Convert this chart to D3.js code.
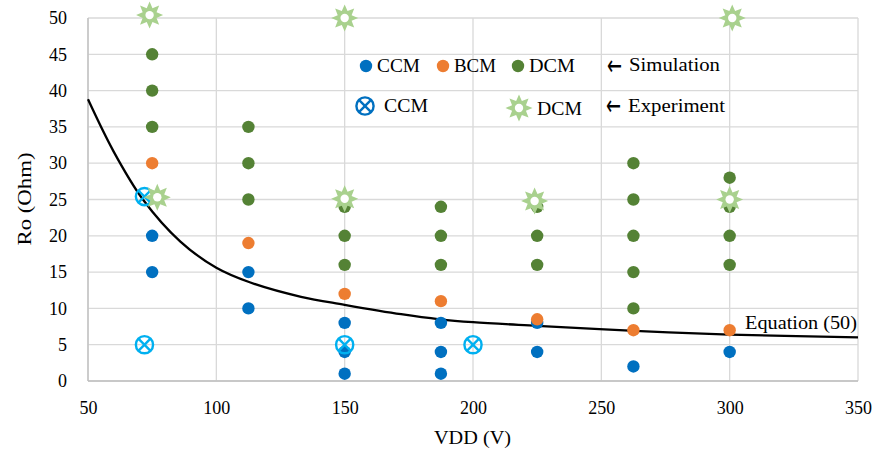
<!DOCTYPE html>
<html><head><meta charset="utf-8">
<script src="https://cdn.jsdelivr.net/npm/d3@7"></script>
<style>
body{margin:0;background:#fff;}
text{font-family:"Liberation Serif",serif;fill:#000;}
</style></head>
<body><svg id="c" width="876" height="450"></svg>
<script>
// ---- data ----
const xTicks = [50,100,150,200,250,300,350];
const yTicks = [0,5,10,15,20,25,30,35,40,45,50];

const ccmSimV = [75,75,112.5,112.5,150,150,150,187.5,187.5,187.5,225,225,262.5,300];
const ccmSimR = [15,20,10,15,1,4,8,1,4,8,4,8,2,4];

const bcmSimV = [75,112.5,150,187.5,225,262.5,300];
const bcmSimR = [30,19,12,11,8.5,7,7];

const dcmSimV = [75,75,75,112.5,112.5,112.5,150,150,150,187.5,187.5,187.5,225,225,225,262.5,262.5,262.5,262.5,262.5,300,300,300,300];
const dcmSimR = [35,40,45,25,30,35,16,20,24,16,20,24,16,20,24,10,15,20,25,30,16,20,24,28];

const ccmExpV = [72,72,150,200];
const ccmExpR = [25.4,5,5,5];

const dcmExpV = [74,77,150,150,224,300,301];
const dcmExpR = [50.4,25.3,50,25.1,24.8,25,50];

const eqV = [50,60,71.4,86,100,113,133,150,172,187,200,225,263,300,350];
const eqR = [38.8,31.6,25,19.2,15.6,13.6,11.6,10.5,9.2,8.5,8.1,7.6,6.9,6.4,6.0];

// ---- chart ----
const svg = d3.select("#c");
const x = d3.scaleLinear().domain([50,350]).range([88,858]);
const y = d3.scaleLinear().domain([0,50]).range([381,18]);
const FS = 18, LFS = 19;
const C = {blue:"#0070C0", orange:"#ED7D31", green:"#548235", cyan:"#00B0F0", star:"#A9D18E", grid:"#D9D9D9"};

// gridlines
svg.append("g").selectAll("line").data(yTicks).join("line")
  .attr("x1",x(50)).attr("x2",x(350)).attr("y1",d=>y(d)).attr("y2",d=>y(d))
  .attr("stroke",C.grid).attr("stroke-width",1.3);
svg.append("g").selectAll("line").data(xTicks).join("line")
  .attr("y1",y(0)).attr("y2",y(50)).attr("x1",d=>x(d)).attr("x2",d=>x(d))
  .attr("stroke",C.grid).attr("stroke-width",1.3);
// axis lines
svg.append("line").attr("x1",x(50)).attr("x2",x(350)).attr("y1",y(0)).attr("y2",y(0)).attr("stroke","#BFBFBF").attr("stroke-width",1.3);
svg.append("line").attr("x1",x(50)).attr("x2",x(50)).attr("y1",y(0)).attr("y2",y(50)).attr("stroke","#BFBFBF").attr("stroke-width",1.3);

// axes labels
const ax = svg.append("g").attr("transform",`translate(0,${y(0)})`)
  .call(d3.axisBottom(x).tickValues(xTicks).tickSize(0).tickPadding(20).tickFormat(d3.format("d")));
ax.select(".domain").remove();
ax.selectAll("text").style("font-size",FS+"px").style("font-family","Liberation Serif");
const ay = svg.append("g").attr("transform",`translate(${x(50)},0)`)
  .call(d3.axisLeft(y).tickValues(yTicks).tickSize(0).tickPadding(21).tickFormat(d3.format("d")));
ay.select(".domain").remove();
ay.selectAll("text").style("font-size",FS+"px").style("font-family","Liberation Serif");

svg.append("text").attr("x",434).attr("y",444)
  .attr("textLength",77).attr("lengthAdjust","spacingAndGlyphs")
  .style("font-size",LFS+"px").text("VDD (V)");
svg.append("text").attr("transform",`translate(31,${199+46.5}) rotate(-90)`)
  .attr("textLength",93).attr("lengthAdjust","spacingAndGlyphs")
  .style("font-size",LFS+"px").text("Ro (Ohm)");

// equation curve
const line = d3.line().x((d,i)=>x(eqV[i])).y((d,i)=>y(eqR[i])).curve(d3.curveCatmullRom.alpha(0.5));
svg.append("path").attr("d",line(eqV)).attr("fill","none").attr("stroke","#000").attr("stroke-width",2.3);
svg.append("text").attr("x",745).attr("y",329)
  .attr("textLength",112).attr("lengthAdjust","spacingAndGlyphs")
  .style("font-size",LFS+"px").text("Equation (50)");

// simulation dots
function dots(V,R,col){
  svg.append("g").selectAll("circle").data(V).join("circle")
    .attr("cx",(d,i)=>x(V[i])).attr("cy",(d,i)=>y(R[i])).attr("r",6.2).attr("fill",col);
}
dots(ccmSimV,ccmSimR,C.blue);
dots(bcmSimV,bcmSimR,C.orange);
dots(dcmSimV,dcmSimR,C.green);

// markers
function starPath(R,r,n){
  const pts=[];
  for(let k=0;k<2*n;k++){
    const a = -Math.PI/2 + k*Math.PI/n;
    const rr = k%2===0?R:r;
    pts.push([rr*Math.cos(a), rr*Math.sin(a)]);
  }
  return "M"+pts.map(p=>p[0].toFixed(2)+","+p[1].toFixed(2)).join("L")+"Z";
}
function drawStar(g,cx,cy){
  const s = g.append("g").attr("transform",`translate(${cx},${cy})`);
  s.append("path").attr("d",starPath(13.5,7.5,8)).attr("fill",C.star);
  s.append("circle").attr("r",4.2).attr("fill","#fff");
}
function drawCX(g,cx,cy,col){
  const s = g.append("g").attr("transform",`translate(${cx},${cy})`);
  const r=8.6, k=r*0.7071;
  s.append("circle").attr("r",r).attr("fill","none").attr("stroke",col).attr("stroke-width",2.4);
  s.append("line").attr("x1",-k).attr("y1",-k).attr("x2",k).attr("y2",k).attr("stroke",col).attr("stroke-width",2.4);
  s.append("line").attr("x1",-k).attr("y1",k).attr("x2",k).attr("y2",-k).attr("stroke",col).attr("stroke-width",2.4);
}
const mg = svg.append("g");
ccmExpV.forEach((v,i)=>drawCX(mg,x(v),y(ccmExpR[i]),C.cyan));
dcmExpV.forEach((v,i)=>drawStar(mg,x(v),y(dcmExpR[i])));

// legend
const lg = svg.append("g");
const row1 = [["CCM",C.blue,366,377,43],["BCM",C.orange,443,454,42],["DCM",C.green,518,529,46]];
row1.forEach(r=>{
  lg.append("circle").attr("cx",r[2]).attr("cy",66).attr("r",6.2).attr("fill",r[1]);
  lg.append("text").attr("x",r[3]).attr("y",72).attr("textLength",r[4]).attr("lengthAdjust","spacingAndGlyphs")
    .style("font-size",LFS+"px").text(r[0]);
});
function arrow(xp,yp){
  lg.append("text").attr("x",xp).attr("y",yp).style("font-family","DejaVu Sans").style("font-size","28px")
    .attr("textLength",15).attr("lengthAdjust","spacingAndGlyphs").text("\u2190");
}
arrow(607,74.5);
lg.append("text").attr("x",629).attr("y",71).attr("textLength",91).attr("lengthAdjust","spacingAndGlyphs")
  .style("font-size",LFS+"px").text("Simulation");
drawCX(lg,365,106,C.blue);
lg.append("text").attr("x",384).attr("y",112).attr("textLength",44).attr("lengthAdjust","spacingAndGlyphs")
  .style("font-size",LFS+"px").text("CCM");
drawStar(lg,519,108);
lg.append("text").attr("x",537).attr("y",115).attr("textLength",45).attr("lengthAdjust","spacingAndGlyphs")
  .style("font-size",LFS+"px").text("DCM");
arrow(606,114.5);
lg.append("text").attr("x",628).attr("y",112).attr("textLength",97).attr("lengthAdjust","spacingAndGlyphs")
  .style("font-size",LFS+"px").text("Experiment");
</script></body></html>
